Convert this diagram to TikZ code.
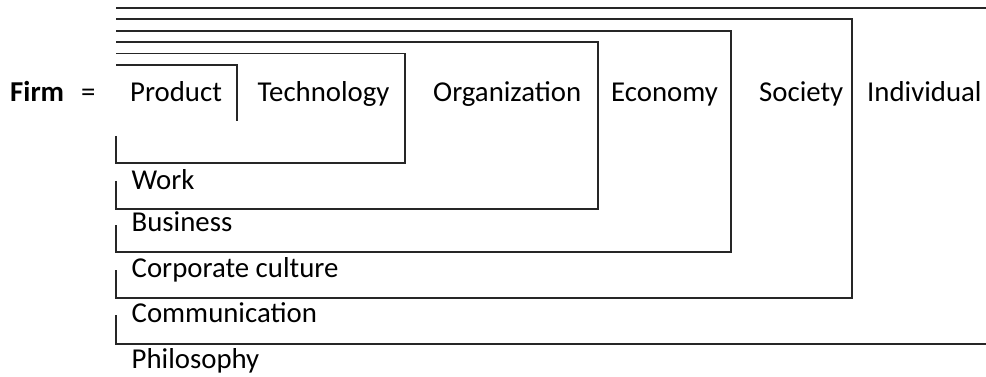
\documentclass[tikz,border=0pt]{standalone}
\usepackage{fontspec}
\setmainfont{Carlito}
\begin{document}
\begin{tikzpicture}[x=1pt,y=-1pt,
  frame/.style={line width=1.9pt,draw=black!85,line cap=butt,line join=miter},
  lbl/.style={anchor=base west,inner sep=0pt,font=\fontsize{28.8}{32}\selectfont,text=black}]
\useasboundingbox (0,0) rectangle (986,377);
% frames
\draw[frame] (116,65) -- (237,65) -- (237,121);
\draw[frame] (116,136) -- (116,163) -- (405,163) -- (405,53.5) -- (116,53.5);
\draw[frame] (116,181) -- (116,209) -- (598,209) -- (598,42.3) -- (116,42.3);
\draw[frame] (116,225) -- (116,252) -- (731,252) -- (731,31) -- (116,31);
\draw[frame] (116,270) -- (116,298) -- (852,298) -- (852,19.3) -- (116,19.3);
\draw[frame] (116,8) -- (986,8);
\draw[frame] (116,315) -- (116,344) -- (986,344);
% labels
\node[lbl,font=\fontsize{28.8}{32}\selectfont\bfseries] (firm) at (10,101.7) {Firm};
\node[lbl] (eq) at (81,101.7) {=};
\node[lbl] (product) at (130,101.7) {Product};
\node[lbl] (tech) at (257.5,101.7) {Technology};
\node[lbl] (org) at (433,101.7) {Organization};
\node[lbl] (eco) at (611,101.7) {Economy};
\node[lbl] (soc) at (759,101.7) {Society};
\node[lbl] (ind) at (867,101.7) {Individual};
\node[lbl] (work) at (131.5,189.3) {Work};
\node[lbl] (bus) at (131.5,231.7) {Business};
\node[lbl] (corp) at (131.5,277) {Corporate culture};
\node[lbl] (comm) at (131.5,322.7) {Communication};
\node[lbl] (phil) at (131.5,368.3) {Philosophy};
\end{tikzpicture}
\end{document}
